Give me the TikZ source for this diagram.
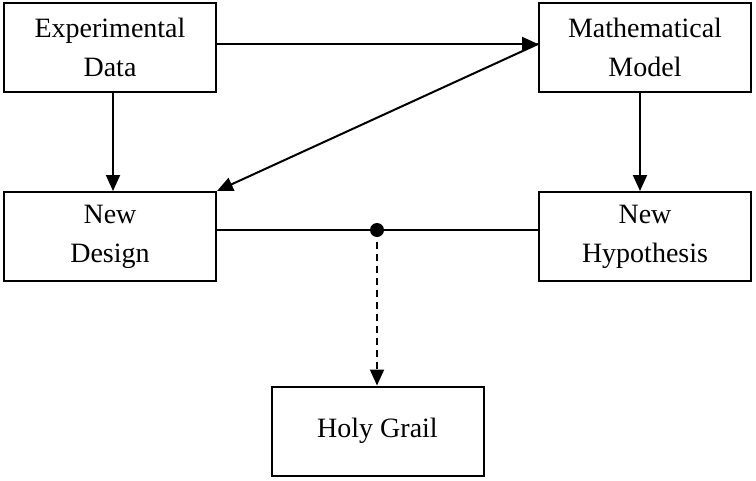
\documentclass[tikz,border=0pt]{standalone}
\usepackage{fontspec}
\setmainfont{Liberation Serif}
\usetikzlibrary{arrows.meta}
\begin{document}
\begin{tikzpicture}[x=1pt,y=-1pt,
  box/.style={draw,line width=2pt,minimum width=212pt,minimum height=89pt,inner sep=0pt,align=center,font=\fontsize{28}{39}\selectfont},
  conn/.style={line width=2pt},
  arr/.style={conn,-{Triangle[length=16pt,width=14pt]}},
  dsh/.style={arr,dash pattern=on 7pt off 5pt}]
\useasboundingbox (0,0) rectangle (756,480);
\node[box] (ed) at (110,47.5) {Experimental\\Data};
\node[box] (mm) at (645,47.5) {Mathematical\\Model};
\node[box] (nd) at (110,236.5) {New\\Design};
\node[box] (nh) at (645,236.5) {New\\Hypothesis};
\node[box] (hg) at (377.5,431) {Holy Grail};
\coordinate (j) at (377,230);
\draw[arr] ([yshift=3.5pt]ed.east) -- ([yshift=3.5pt]mm.west);
\draw[arr] ([yshift=3.5pt]mm.west) -- (nd.north east);
\draw[arr] ([xshift=3pt]ed.south) -- ([xshift=3pt]nd.north);
\draw[arr] ([xshift=-5pt]mm.south) -- ([xshift=-5pt]nh.north);
\draw[conn] ([yshift=6.5pt]nd.east) -- ([yshift=6.5pt]nh.west);
\fill (j) circle (7pt);
\draw[dsh] (j) -- (hg.north -| j);
\end{tikzpicture}
\end{document}
